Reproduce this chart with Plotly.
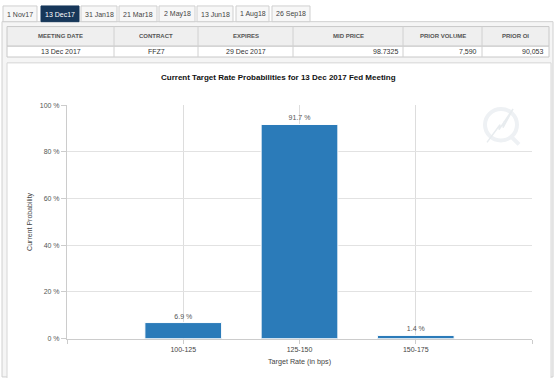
import plotly.graph_objects as go

W, H = 554, 378

# ---- data ----
categories = ["100-125", "125-150", "150-175"]
probabilities = [6.9, 91.7, 1.4]
tab_labels = ["1 Nov17", "13 Dec17", "31 Jan18", "21 Mar18", "2 May18", "13 Jun18", "1 Aug18", "26 Sep18"]
selected_tab = "13 Dec17"
table_headers = ["MEETING DATE", "CONTRACT", "EXPIRES", "MID PRICE", "PRIOR VOLUME", "PRIOR OI"]
table_row = ["13 Dec 2017", "FFZ7", "29 Dec 2017", "98.7325", "7,590", "90,053"]
title_text = "Current Target Rate Probabilities for 13 Dec 2017 Fed Meeting"
y_ticks = [0, 20, 40, 60, 80, 100]
y_tick_labels = ["0 %", "20 %", "40 %", "60 %", "80 %", "100 %"]

# ---- layout constants (pixels) ----
tab_edges = [(3, 37), (41, 79), (81, 117), (119, 157), (159, 195), (197, 233), (236, 269), (272, 310)]
col_edges = [7, 114, 198, 293, 403, 482, 549]
col_align = ["center", "center", "center", "right", "right", "right"]
PL, PR, PT, PB = 67, 532, 103, 341

FONT = "Liberation Sans, Arial, sans-serif"


def X(px):
    return px / W


def Y(py):
    return 1 - py / H


shapes = []
annotations = []


def rect(x0, y0, x1, y1, fill, line="#cccccc", lw=1, layer="below"):
    shapes.append(dict(type="rect", xref="paper", yref="paper",
                       x0=X(x0), x1=X(x1), y0=Y(y1), y1=Y(y0),
                       fillcolor=fill, line=dict(color=line, width=lw), layer=layer))


def text(px, py, s, size=7, color="#333333", xanchor="center", bold=False):
    annotations.append(dict(xref="paper", yref="paper", x=X(px), y=Y(py),
                            text=("<b>%s</b>" % s) if bold else s, showarrow=False,
                            xanchor=xanchor, yanchor="middle",
                            font=dict(family=FONT, size=size, color=color)))


# page panel
rect(2, 18, 553, 380, "#f5f5f5", "#d0d0d0")

# tabs
for lab, (x0, x1) in zip(tab_labels, tab_edges):
    if lab == selected_tab:
        rect(x0, 2, x1, 18, "#17375a", "#17375a")
        text((x0 + x1) / 2, 10.5, lab, 7, "#ffffff")
    else:
        rect(x0, 2, x1, 18, "#f7f7f7", "#cfcfcf")
        text((x0 + x1) / 2, 10.5, lab, 7, "#444444")

# table
rect(col_edges[0], 23, col_edges[-1], 43, "#efefef", "#c8c8c8")
rect(col_edges[0], 43, col_edges[-1], 54, "#ffffff", "#c8c8c8")
for cx in col_edges[1:-1]:
    shapes.append(dict(type="line", xref="paper", yref="paper", x0=X(cx), x1=X(cx),
                       y0=Y(54), y1=Y(23), line=dict(color="#d0d0d0", width=1)))
for i, (h, v) in enumerate(zip(table_headers, table_row)):
    x0, x1 = col_edges[i], col_edges[i + 1]
    text((x0 + x1) / 2, 33, h, 6, "#555555", bold=True)
    if col_align[i] == "right":
        text(x1 - 3, 48.5, v, 7, "#333333", xanchor="right")
    else:
        text((x0 + x1) / 2, 48.5, v, 7, "#333333")

# chart box
rect(7, 60, 551, 382, "#ffffff", "#d6d6d6")

# watermark logo
cxw, cyw, rw = 501, 123, 16
shapes.append(dict(type="circle", xref="paper", yref="paper",
                   x0=X(cxw - rw), x1=X(cxw + rw), y0=Y(cyw + rw), y1=Y(cyw - rw),
                   line=dict(color="#eef1f4", width=4), layer="below"))
bolt = [(487, 141), (500, 123), (499, 128), (513, 107), (503, 126), (504, 120)]
path = "M " + " L ".join("%f,%f" % (X(a), Y(b)) for a, b in bolt)
shapes.append(dict(type="path", xref="paper", yref="paper", path=path,
                   line=dict(color="#e8ecef", width=1.5), layer="below"))
shapes.append(dict(type="line", xref="paper", yref="paper", x0=X(510), x1=X(519),
                   y0=Y(134), y1=Y(143), line=dict(color="#eef1f4", width=4), layer="below"))

# title
text(278, 75, title_text, 8, "#111111", bold=True)

fig = go.Figure()
fig.add_trace(go.Bar(
    x=list(range(len(categories))), y=probabilities, width=0.66,
    marker=dict(color="#2b7bb9", line=dict(color="#ffffff", width=1)),
    text=["%s %%" % p for p in probabilities], textposition="outside",
    textfont=dict(family=FONT, size=7, color="#555555"), cliponaxis=False,
    hoverinfo="skip"))

fig.update_layout(
    width=W, height=H, margin=dict(l=0, r=0, t=0, b=0),
    paper_bgcolor="#ffffff", plot_bgcolor="rgba(0,0,0,0)",
    showlegend=False, shapes=shapes, annotations=annotations,
    font=dict(family=FONT, size=7, color="#555555"),
    xaxis=dict(domain=[X(PL), X(PR)], range=[-1, len(categories)],
               tickvals=list(range(-1, len(categories) + 1)),
               ticktext=[""] + categories + [""],
               showgrid=True, gridcolor="#dddddd", gridwidth=1,
               ticks="outside", ticklen=4, tickcolor="#cccccc",
               showline=True, linecolor="#cccccc", linewidth=1, zeroline=False,
               tickfont=dict(family=FONT, size=7, color="#444444"),
               title=dict(text="Target Rate (in bps)", standoff=6,
                          font=dict(family=FONT, size=7.2, color="#444444"))),
    yaxis=dict(domain=[Y(PB), Y(PT)], range=[0, 100], tickvals=y_ticks,
               ticktext=y_tick_labels, showgrid=True, gridcolor="#e2e2e2", gridwidth=1,
               ticks="outside", ticklen=5, tickcolor="#cccccc",
               showline=True, linecolor="#cccccc", linewidth=1, zeroline=False,
               tickfont=dict(family=FONT, size=7, color="#555555"),
               title=dict(text="Current Probability", standoff=6,
                          font=dict(family=FONT, size=7, color="#444444"))),
    bargap=0.34,
)

fig.write_html("out.html", config={"displayModeBar": False, "staticPlot": True},
               post_script="document.body.style.margin='0px';document.body.style.overflow='hidden';")
